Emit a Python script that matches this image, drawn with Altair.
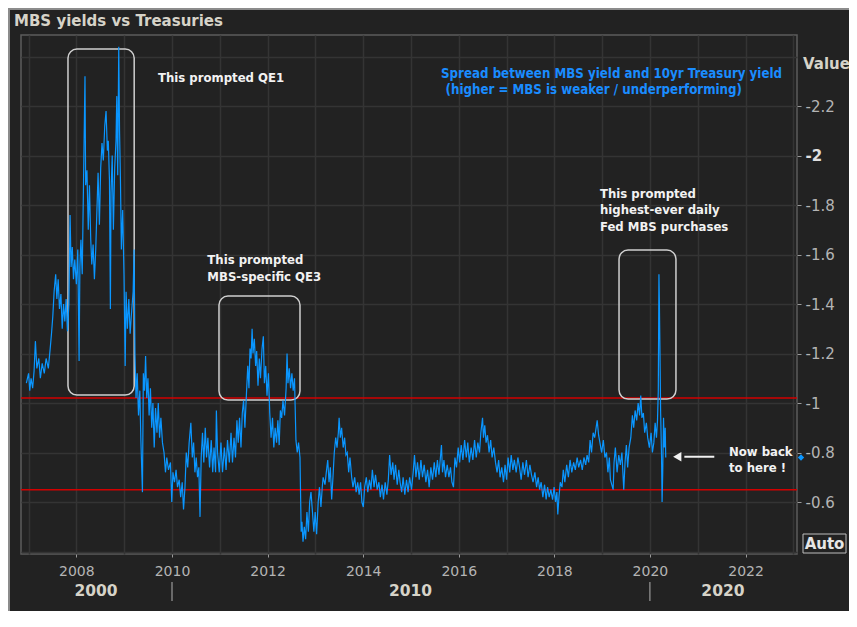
import altair as alt
import pandas as pd

# ---------------- data ----------------
dates = [
"2006-12-15","2007-01-01","2007-01-10","2007-01-20","2007-02-01","2007-02-12","2007-02-22","2007-03-05","2007-03-20","2007-04-01",
"2007-04-15","2007-05-01","2007-05-15","2007-06-01","2007-06-15","2007-06-25","2007-07-05","2007-07-15","2007-07-27","2007-08-05",
"2007-08-15","2007-08-25","2007-09-05","2007-09-15","2007-09-25","2007-10-05","2007-10-15","2007-10-25","2007-11-05","2007-11-14",
"2007-11-22","2007-12-01","2007-12-10","2007-12-20","2008-01-01","2008-01-12","2008-01-22","2008-01-28","2008-02-05","2008-02-15",
"2008-02-25","2008-03-07","2008-03-12","2008-03-22","2008-04-01","2008-04-10","2008-04-20","2008-04-28","2008-05-08","2008-05-18",
"2008-05-28","2008-06-05","2008-06-15","2008-06-25","2008-07-05","2008-07-15","2008-07-25","2008-08-05","2008-08-15","2008-08-25",
"2008-09-01","2008-09-10","2008-09-17","2008-09-22","2008-10-01","2008-10-10","2008-10-20","2008-10-30","2008-11-05","2008-11-12",
"2008-11-20","2008-11-26","2008-12-03","2008-12-10","2008-12-20","2008-12-30","2009-01-08","2009-01-15","2009-01-25","2009-02-05",
"2009-02-15","2009-02-25","2009-03-10","2009-03-17","2009-03-24","2009-04-01","2009-04-10","2009-04-20","2009-04-30","2009-05-08",
"2009-05-20","2009-05-27","2009-06-05","2009-06-13","2009-06-22","2009-07-01","2009-07-10","2009-07-20","2009-07-30","2009-08-08",
"2009-08-18","2009-08-28","2009-09-08","2009-09-18","2009-09-28","2009-10-08","2009-10-20","2009-11-01","2009-11-12","2009-11-22",
"2009-12-05","2009-12-20","2009-12-30","2010-01-08","2010-01-20","2010-02-01","2010-02-12","2010-02-25","2010-03-08","2010-03-20",
"2010-03-30","2010-04-10","2010-04-20","2010-05-01","2010-05-12","2010-05-25","2010-06-05","2010-06-15","2010-06-25","2010-07-05",
"2010-07-15","2010-07-25","2010-08-03","2010-08-12","2010-08-22","2010-09-01","2010-09-12","2010-09-22","2010-10-02","2010-10-15",
"2010-10-28","2010-11-08","2010-11-18","2010-11-30","2010-12-06","2010-12-15","2010-12-28","2011-01-10","2011-01-22","2011-02-05",
"2011-02-18","2011-03-01","2011-03-15","2011-03-28","2011-04-08","2011-04-20","2011-05-01","2011-05-12","2011-05-22","2011-06-01",
"2011-06-12","2011-06-22","2011-07-02","2011-07-12","2011-07-24","2011-08-03","2011-08-12","2011-08-20","2011-08-28","2011-09-05",
"2011-09-12","2011-09-22","2011-10-02","2011-10-10","2011-10-20","2011-10-30","2011-11-08","2011-11-20","2011-11-30","2011-12-08",
"2011-12-18","2011-12-28","2012-01-08","2012-01-18","2012-01-28","2012-02-08","2012-02-18","2012-02-28","2012-03-10","2012-03-20",
"2012-03-30","2012-04-08","2012-04-18","2012-04-28","2012-05-10","2012-05-22","2012-05-29","2012-06-05","2012-06-15","2012-06-25",
"2012-07-05","2012-07-15","2012-07-25","2012-08-05","2012-08-15","2012-08-25","2012-09-05","2012-09-14","2012-09-20","2012-09-28",
"2012-10-08","2012-10-18","2012-10-28","2012-11-08","2012-11-18","2012-11-28","2012-12-08","2012-12-20","2012-12-30","2013-01-10",
"2013-01-22","2013-02-01","2013-02-12","2013-02-22","2013-03-01","2013-03-15","2013-03-25","2013-04-05","2013-04-15","2013-04-25",
"2013-05-05","2013-05-15","2013-05-25","2013-06-05","2013-06-15","2013-06-25","2013-07-01","2013-07-10","2013-07-20","2013-08-01",
"2013-08-12","2013-08-22","2013-09-01","2013-09-12","2013-09-22","2013-10-05","2013-10-15","2013-10-28","2013-11-08","2013-11-20",
"2013-12-01","2013-12-12","2013-12-22","2014-01-02","2014-01-12","2014-01-25","2014-02-05","2014-02-18","2014-03-01","2014-03-12",
"2014-03-25","2014-04-05","2014-04-18","2014-05-01","2014-05-12","2014-05-25","2014-06-05","2014-06-18","2014-07-01","2014-07-12",
"2014-07-22","2014-08-02","2014-08-15","2014-08-25","2014-09-05","2014-09-18","2014-09-30","2014-10-10","2014-10-22","2014-11-02",
"2014-11-15","2014-11-28","2014-12-10","2014-12-22","2015-01-05","2015-01-18","2015-01-28","2015-02-08","2015-02-20","2015-03-05",
"2015-03-18","2015-03-30","2015-04-12","2015-04-25","2015-05-08","2015-05-20","2015-06-02","2015-06-15","2015-06-28","2015-07-10",
"2015-07-22","2015-08-03","2015-08-22","2015-08-30","2015-09-10","2015-09-22","2015-10-05","2015-10-18","2015-10-30","2015-11-10",
"2015-11-22","2015-12-03","2015-12-15","2015-12-28","2016-01-08","2016-01-20","2016-02-02","2016-02-15","2016-02-28","2016-03-10",
"2016-03-22","2016-04-05","2016-04-18","2016-05-01","2016-05-14","2016-05-26","2016-06-08","2016-06-18","2016-07-01","2016-07-08",
"2016-07-18","2016-07-28","2016-08-08","2016-08-20","2016-09-01","2016-09-12","2016-09-25","2016-10-08","2016-10-20","2016-11-01",
"2016-11-12","2016-11-25","2016-12-08","2016-12-20","2017-01-01","2017-01-12","2017-01-25","2017-02-05","2017-02-18","2017-03-01",
"2017-03-15","2017-03-28","2017-04-10","2017-04-22","2017-05-05","2017-05-18","2017-06-01","2017-06-14","2017-06-28","2017-07-10",
"2017-07-22","2017-08-05","2017-08-18","2017-08-30","2017-09-10","2017-09-22","2017-10-05","2017-10-18","2017-10-30","2017-11-10",
"2017-11-22","2017-12-05","2017-12-18","2017-12-30","2018-01-10","2018-01-20","2018-01-27","2018-02-05","2018-02-15","2018-02-28",
"2018-03-10","2018-03-22","2018-04-05","2018-04-18","2018-05-01","2018-05-14","2018-05-28","2018-06-10","2018-06-24","2018-07-06",
"2018-07-20","2018-08-02","2018-08-15","2018-08-28","2018-09-08","2018-09-20","2018-10-01","2018-10-12","2018-10-24","2018-11-05",
"2018-11-24","2018-12-05","2018-12-15","2018-12-28","2019-01-10","2019-01-22","2019-02-03","2019-02-14","2019-02-25","2019-03-05",
"2019-03-26","2019-04-02","2019-04-12","2019-04-25","2019-05-08","2019-05-20","2019-06-01","2019-06-15","2019-06-25","2019-07-05",
"2019-07-15","2019-07-26","2019-08-08","2019-08-20","2019-08-30","2019-09-10","2019-09-22","2019-10-03","2019-10-14","2019-10-23",
"2019-11-01","2019-11-12","2019-11-22","2019-12-05","2019-12-15","2019-12-28","2020-01-10","2020-01-20","2020-01-31","2020-02-10",
"2020-02-20","2020-02-28","2020-03-05","2020-03-10","2020-03-13","2020-03-18","2020-03-23","2020-03-30","2020-04-03","2020-04-08",
"2020-04-14","2020-04-20","2020-04-27","2020-05-01",
]
spread = [
-1.08,-1.12,-1.05,-1.10,-1.06,-1.13,-1.25,-1.14,-1.18,-1.10,
-1.16,-1.12,-1.18,-1.14,-1.22,-1.28,-1.35,-1.45,-1.52,-1.42,
-1.50,-1.38,-1.44,-1.30,-1.40,-1.33,-1.42,-1.29,-1.40,-1.76,
-1.55,-1.63,-1.50,-1.58,-1.48,-1.62,-1.17,-1.55,-1.66,-1.52,
-1.90,-2.32,-1.88,-1.94,-1.70,-1.88,-1.66,-1.56,-1.64,-1.50,
-1.62,-1.76,-1.93,-1.72,-1.95,-2.05,-1.98,-2.12,-2.18,-2.02,
-2.06,-1.90,-1.38,-1.85,-2.00,-1.70,-1.95,-2.06,-2.24,-1.92,
-2.44,-2.10,-1.90,-1.62,-1.78,-1.52,-1.15,-1.45,-1.30,-1.42,
-1.28,-1.36,-1.45,-1.62,-1.20,-1.02,-1.12,-0.95,-1.05,-0.85,
-0.64,-1.12,-1.05,-1.19,-1.02,-1.10,-0.95,-1.06,-0.90,-1.00,
-0.82,-0.98,-0.88,-1.00,-0.86,-0.94,-0.84,-0.80,-0.72,-0.78,
-0.73,-0.76,-0.60,-0.72,-0.68,-0.73,-0.66,-0.69,-0.62,-0.68,
-0.57,-0.66,-0.80,-0.74,-0.84,-0.92,-0.78,-0.84,-0.72,-0.78,
-0.70,-0.74,-0.54,-0.78,-0.88,-0.76,-0.90,-0.78,-0.86,-0.74,
-0.85,-0.72,-0.82,-0.72,-0.97,-0.80,-0.72,-0.84,-0.72,-0.82,
-0.73,-0.85,-0.76,-0.88,-0.76,-0.86,-0.78,-0.93,-0.84,-0.94,
-0.82,-0.96,-1.01,-0.90,-1.04,-1.15,-1.06,-1.22,-1.18,-1.30,
-1.20,-1.26,-1.15,-1.21,-1.07,-1.18,-1.10,-1.22,-1.27,-1.08,
-1.15,-1.03,-1.12,-0.96,-0.86,-0.94,-0.82,-0.90,-0.84,-0.93,
-0.83,-0.97,-0.94,-1.01,-0.95,-1.06,-1.20,-1.08,-1.14,-1.06,
-1.12,-1.05,-1.10,-0.85,-0.80,-0.84,-0.78,-0.48,-0.52,-0.44,
-0.50,-0.45,-0.56,-0.48,-0.60,-0.64,-0.57,-0.48,-0.56,-0.47,
-0.60,-0.66,-0.58,-0.66,-0.70,-0.67,-0.72,-0.77,-0.68,-0.74,
-0.61,-0.70,-0.80,-0.86,-0.82,-0.88,-0.94,-0.86,-0.90,-0.82,
-0.86,-0.79,-0.80,-0.72,-0.78,-0.70,-0.66,-0.70,-0.64,-0.68,
-0.63,-0.68,-0.60,-0.58,-0.66,-0.70,-0.64,-0.69,-0.65,-0.73,
-0.66,-0.71,-0.65,-0.68,-0.62,-0.67,-0.61,-0.68,-0.63,-0.69,
-0.79,-0.71,-0.76,-0.69,-0.75,-0.67,-0.73,-0.68,-0.64,-0.70,
-0.63,-0.69,-0.64,-0.70,-0.65,-0.72,-0.79,-0.70,-0.76,-0.69,
-0.77,-0.70,-0.75,-0.68,-0.73,-0.66,-0.74,-0.69,-0.76,-0.70,
-0.77,-0.71,-0.83,-0.72,-0.77,-0.70,-0.75,-0.70,-0.74,-0.68,
-0.66,-0.78,-0.74,-0.82,-0.76,-0.83,-0.77,-0.85,-0.78,-0.84,
-0.76,-0.82,-0.77,-0.85,-0.78,-0.84,-0.80,-0.88,-0.94,-0.86,
-0.91,-0.84,-0.87,-0.80,-0.85,-0.78,-0.82,-0.76,-0.72,-0.77,
-0.70,-0.74,-0.68,-0.75,-0.69,-0.78,-0.72,-0.79,-0.73,-0.77,
-0.72,-0.78,-0.74,-0.69,-0.76,-0.71,-0.77,-0.70,-0.75,-0.71,
-0.68,-0.72,-0.66,-0.70,-0.65,-0.68,-0.62,-0.67,-0.61,-0.66,
-0.62,-0.65,-0.61,-0.66,-0.60,-0.64,-0.55,-0.62,-0.68,-0.66,
-0.73,-0.68,-0.75,-0.70,-0.77,-0.72,-0.76,-0.73,-0.78,-0.74,
-0.77,-0.73,-0.78,-0.75,-0.79,-0.76,-0.85,-0.80,-0.88,-0.86,
-0.93,-0.87,-0.84,-0.80,-0.85,-0.78,-0.80,-0.72,-0.78,-0.69,
-0.65,-0.76,-0.82,-0.72,-0.79,-0.75,-0.80,-0.65,-0.76,-0.83,
-0.74,-0.82,-0.86,-0.95,-0.90,-0.97,-0.93,-1.00,-0.95,-1.03,
-0.94,-0.96,-0.88,-0.92,-0.86,-0.82,-0.88,-0.80,-0.84,-0.92,
-0.86,-0.93,-1.05,-1.52,-1.42,-1.20,-0.96,-0.78,-0.60,-0.72,
-0.94,-0.82,-0.90,-0.78,
]

red_levels = [-1.02, -0.65]

box_start = ["2007-10-29", "2010-12-26", "2019-05-10"]
box_end = ["2009-03-18", "2012-09-05", "2020-07-18"]
box_top = [-2.43, -1.432, -1.618]
box_bottom = [-1.032, -1.012, -1.016]

note_lines = ["This prompted QE1",
              "This prompted", "MBS-specific QE3",
              "This prompted", "highest-ever daily", "Fed MBS purchases",
              "Now back", "to here !"]
note_dates = ["2009-09-16",
              "2010-09-28", "2010-09-28",
              "2018-12-15", "2018-12-15", "2018-12-15",
              "2021-08-27", "2021-08-27"]
note_values = [-2.315, -1.578, -1.511, -1.843, -1.779, -1.712, -0.803, -0.739]

blue_lines = ["Spread between MBS yield and 10yr Treasury yield",
              "(higher = MBS is weaker / underperforming)"]
blue_dates = ["2015-08-19", "2015-09-22"]
blue_values = [-2.330, -2.265]

arrow_from = ["2021-05-07"]
arrow_to = ["2020-09-20"]
arrow_head = ["2020-07-28"]
arrow_level = [-0.783]

y_ticks = [-2.4, -2.2, -2.0, -1.8, -1.6, -1.4, -1.2, -1.0, -0.8, -0.6, -0.4]
grid_years = list(range(2007, 2024))

decade_labels = ["2000", "2010", "2020"]
decade_label_dates = ["2008-05-30", "2014-12-28", "2021-07-12"]
decade_breaks = ["2010-01-01", "2020-01-01"]

title_text = ["MBS yields vs Treasuries"]
value_text = ["Value"]
auto_text = ["Auto"]

# ---------------- styling ----------------
BG = "#222222"
GRID = "#343434"
BLUE = "#0a96ff"
TEXT_BLUE = "#1a8cff"
FONT = "DejaVu Sans Condensed"

x_scale = alt.Scale(domain=[alt.DateTime(year=2006, month=11, date=4),
                            alt.DateTime(year=2023, month=1, date=29)])
y_scale = alt.Scale(domain=[-2.487, -0.39], reverse=True, nice=False, zero=False)

x_axis = alt.Axis(
    values=[alt.DateTime(year=y, month=1, date=1) for y in grid_years],
    labelExpr="year(datum.value) % 2 == 0 ? timeFormat(datum.value, '%Y') : ''",
    grid=True, gridColor=GRID, gridWidth=1.5, domain=False,
    tickColor="#9a9a9a", tickSize=3,
    tickOpacity={"condition": {"test": "year(datum.value) % 2 == 0", "value": 1}, "value": 0},
    labelColor="#b4b4b4", labelFontSize=14, labelFont="DejaVu Sans",
    labelPadding=7, labelFlush=False, labelOverlap=False, title=None,
)
y_axis = alt.Axis(
    orient="right", values=y_ticks,
    labelExpr="(datum.value < -2.3 || datum.value > -0.5) ? '' : '-' + toString(abs(round(datum.value * 10) / 10))",
    grid=True, gridColor=GRID, gridWidth=1.5, domain=False,
    tickColor="#9a9a9a", tickSize=4,
    tickOpacity={"condition": {"test": "datum.value < -2.3 || datum.value > -0.5", "value": 0}, "value": 1},
    labelColor={"condition": {"test": "datum.value == -2", "value": "#e0e0e0"}, "value": "#b4b4b4"},
    labelFontWeight={"condition": {"test": "datum.value == -2", "value": "bold"}, "value": "normal"},
    labelFontSize=15, labelFont="DejaVu Sans", labelPadding=4, labelOverlap=False,
    labelFlush=False, title=None,
)

series_df = pd.DataFrame({"date": dates, "spread": spread})

# first layer carries the axes (invisible line); other layers leave axis unset
axes_layer = alt.Chart(series_df).mark_line(opacity=0).encode(
    x=alt.X("date:T", scale=x_scale, axis=x_axis),
    y=alt.Y("spread:Q", scale=y_scale, axis=y_axis),
)

line = alt.Chart(series_df).mark_line(color=BLUE, strokeWidth=1.2).encode(
    x=alt.X("date:T", scale=x_scale),
    y=alt.Y("spread:Q", scale=y_scale),
)

red = alt.Chart(pd.DataFrame({"level": red_levels})).mark_rule(
    color="#d30000", strokeWidth=1.5).encode(y=alt.Y("level:Q", scale=y_scale))

boxes = alt.Chart(pd.DataFrame({"s": box_start, "e": box_end, "t": box_top, "b": box_bottom})).mark_rect(
    fill="transparent", stroke="#cfcfcf", strokeWidth=1.5, cornerRadius=9).encode(
    x=alt.X("s:T", scale=x_scale), x2="e:T",
    y=alt.Y("t:Q", scale=y_scale), y2="b:Q")

notes = alt.Chart(pd.DataFrame({"txt": note_lines, "d": note_dates, "v": note_values})).mark_text(
    align="left", baseline="middle", font=FONT, fontSize=13, fontWeight="bold", color="#f2f2f2").encode(
    x=alt.X("d:T", scale=x_scale), y=alt.Y("v:Q", scale=y_scale), text="txt:N")

blue_notes = alt.Chart(pd.DataFrame({"txt": blue_lines, "d": blue_dates, "v": blue_values})).mark_text(
    align="left", baseline="middle", font=FONT, fontSize=13.2, fontWeight="bold", color=TEXT_BLUE).encode(
    x=alt.X("d:T", scale=x_scale), y=alt.Y("v:Q", scale=y_scale), text="txt:N")

arrow_df = pd.DataFrame({"a": arrow_from, "b": arrow_to, "h": arrow_head, "v": arrow_level})
arrow_shaft = alt.Chart(arrow_df).mark_rule(color="#f2f2f2", strokeWidth=2).encode(
    x=alt.X("a:T", scale=x_scale), x2="b:T", y=alt.Y("v:Q", scale=y_scale))
arrow_tip = alt.Chart(arrow_df).mark_point(shape="triangle-left", filled=True, color="#f2f2f2",
                                           opacity=1, size=90).encode(
    x=alt.X("h:T", scale=x_scale), y=alt.Y("v:Q", scale=y_scale))

last_df = pd.DataFrame({"v": [spread[-1]]})
diamond = alt.Chart(last_df).mark_point(shape="diamond", filled=True, color=BLUE, opacity=1, size=40).encode(
    x=alt.value(780), y=alt.Y("v:Q", scale=y_scale))

title = alt.Chart(pd.DataFrame({"t": title_text})).mark_text(
    align="left", baseline="middle", font="DejaVu Sans", fontSize=15, fontWeight="bold", color="#d6d3c8").encode(
    x=alt.value(-7), y=alt.value(-14), text="t:N")

value_lbl = alt.Chart(pd.DataFrame({"t": value_text})).mark_text(
    align="left", baseline="middle", font="DejaVu Sans", fontSize=15, fontWeight="bold", color="#d6d3c8").encode(
    x=alt.value(782), y=alt.value(29), text="t:N")

auto_box = alt.Chart(pd.DataFrame({"t": auto_text})).mark_rect(
    fill=BG, stroke="#bdbdbd", strokeWidth=1).encode(
    x=alt.value(782), x2=alt.value(825), y=alt.value(499), y2=alt.value(518))
auto_lbl = alt.Chart(pd.DataFrame({"t": auto_text})).mark_text(
    align="center", baseline="middle", font="DejaVu Sans", fontSize=15, fontWeight="bold", color="#e6e6e6").encode(
    x=alt.value(803.5), y=alt.value(509), text="t:N")

decades = alt.Chart(pd.DataFrame({"t": decade_labels, "d": decade_label_dates})).mark_text(
    align="center", baseline="middle", font="DejaVu Sans", fontSize=15.5, fontWeight="bold", color="#d6d3c8").encode(
    x=alt.X("d:T", scale=x_scale), y=alt.value(556), text="t:N")
breaks = alt.Chart(pd.DataFrame({"d": decade_breaks})).mark_rule(color="#b0b0b0", strokeWidth=1).encode(
    x=alt.X("d:T", scale=x_scale), y=alt.value(547), y2=alt.value(566))

frame_top = alt.Chart(pd.DataFrame({"t": title_text})).mark_rule(color="#8c8c8c", strokeWidth=2).encode(
    x=alt.value(-13), x2=alt.value(830), y=alt.value(-26))
frame_left = alt.Chart(pd.DataFrame({"t": title_text})).mark_rule(color="#8c8c8c", strokeWidth=2).encode(
    x=alt.value(-12), y=alt.value(-27), y2=alt.value(580))

chart = alt.layer(
    axes_layer, red, boxes, line, notes, blue_notes, arrow_shaft, arrow_tip, diamond,
    title, value_lbl, auto_box, auto_lbl, decades, breaks, frame_top, frame_left,
).properties(
    width=776, height=519,
    padding={"left": 13, "top": 27, "right": 52, "bottom": 57},
    autosize="none", background=BG,
).configure_view(stroke="#5c5c5c", strokeWidth=1.5, fill=BG)

chart.save("out.html", embed_options={"renderer": "svg", "actions": False})
